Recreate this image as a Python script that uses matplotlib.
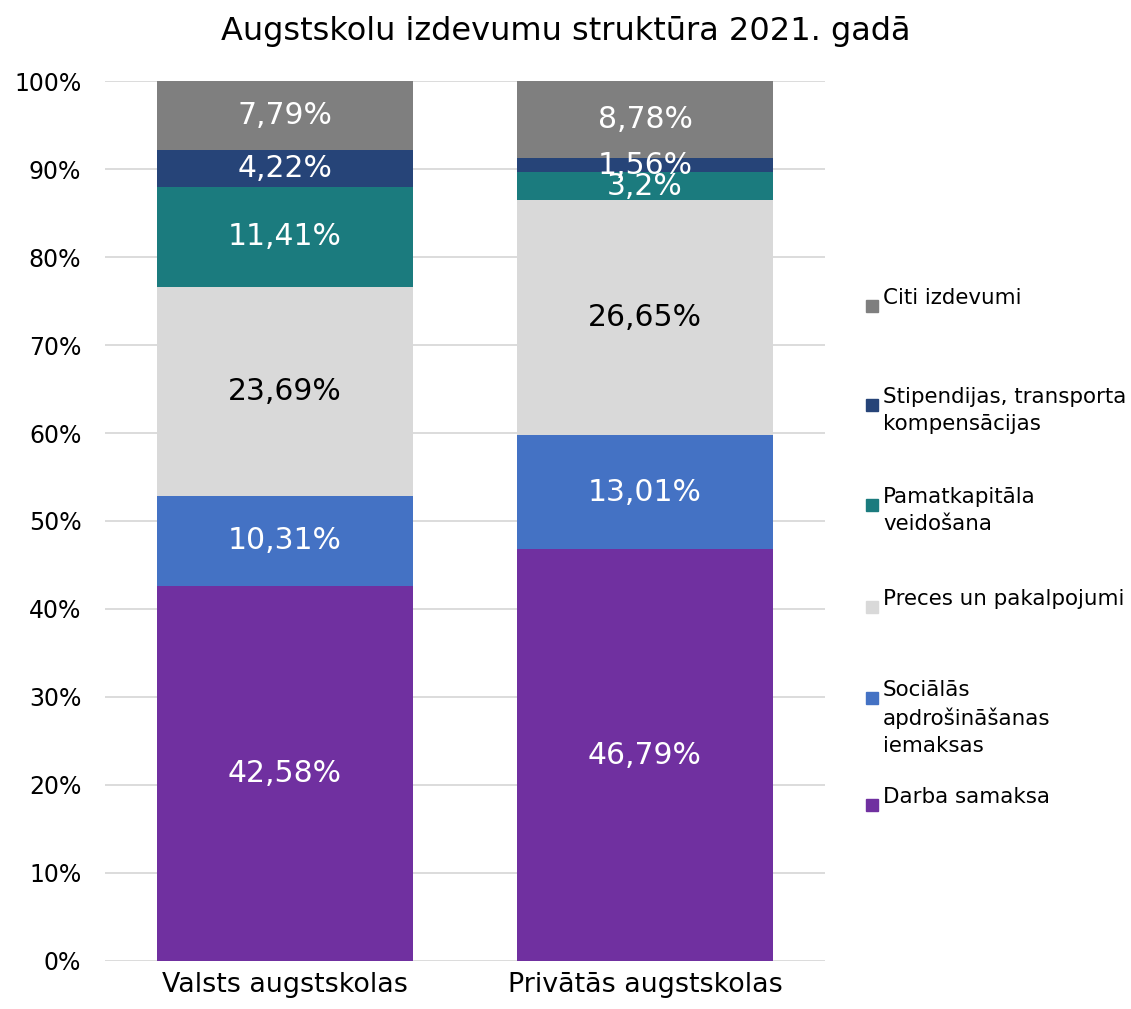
import matplotlib
matplotlib.use("Agg")
import matplotlib.pyplot as plt
from matplotlib.patches import Rectangle
import numpy as np

categories = ["Valsts augstskolas", "Privātās augstskolas"]
series_names = [
    "Darba samaksa",
    "Sociālās\napdrošināšanas\niemaksas",
    "Preces un pakalpojumi",
    "Pamatkapitāla\nveidošana",
    "Stipendijas, transporta\nkompensācijas",
    "Citi izdevumi",
]
valsts = [42.58, 10.31, 23.69, 11.41, 4.22, 7.79]
privatas = [46.79, 13.01, 26.65, 3.2, 1.56, 8.78]
value_labels = [
    ["42,58%", "10,31%", "23,69%", "11,41%", "4,22%", "7,79%"],
    ["46,79%", "13,01%", "26,65%", "3,2%", "1,56%", "8,78%"],
]
colors = ["#7030A0", "#4472C4", "#D9D9D9", "#1B7B7E", "#264478", "#7F7F7F"]
text_colors = ["white", "white", "black", "white", "white", "white"]

plt.rcParams["font.family"] = ["DejaVu Sans"]

fig = plt.figure(figsize=(11.31, 10.09), dpi=100)
ax = fig.add_axes([0.0928, 0.0476, 0.6366, 0.8721])

data = np.array([valsts, privatas])
x = np.arange(len(categories))
bottom = np.zeros(len(categories))
for i, name in enumerate(series_names):
    vals = data[:, i]
    ax.bar(x, vals, 0.711, bottom=bottom, color=colors[i], zorder=2)
    for j in range(len(categories)):
        ax.text(x[j], bottom[j] + vals[j] / 2, value_labels[j][i],
                ha="center", va="center", fontsize=21.5, color=text_colors[i], zorder=3)
    bottom += vals

ax.set_xlim(-0.5, 1.5)
ax.set_ylim(0, 100)
ax.set_yticks(np.arange(0, 101, 10))
ax.set_yticklabels([f"{v}%" for v in range(0, 101, 10)], fontsize=17)
ax.set_xticks(x)
ax.set_xticklabels(categories, fontsize=19.4)
ax.tick_params(length=0, pad=8)
ax.tick_params(axis="y", pad=17)
ax.grid(axis="y", color="#D9D9D9", linewidth=1.3, zorder=0)
for s in ax.spines.values():
    s.set_visible(False)

fig.suptitle("Augstskolu izdevumu struktūra 2021. gadā", fontsize=23, y=0.984)

# legend placed item by item (top line y in pixels from top)
legend_tops = [795, 688, 597, 495, 395, 296]
W, H = 1131, 1009
for i, name in enumerate(series_names):
    ytop = legend_tops[i]
    fig.patches.append(Rectangle((866 / W, 1 - (ytop + 16) / H), 12 / W, 12 / H,
                                 transform=fig.transFigure, color=colors[i]))
    fig.text(883 / W, 1 - (ytop - 8) / H, name, ha="left", va="top",
             fontsize=15.4, linespacing=1.42)

fig.savefig("out.png", dpi=100)
